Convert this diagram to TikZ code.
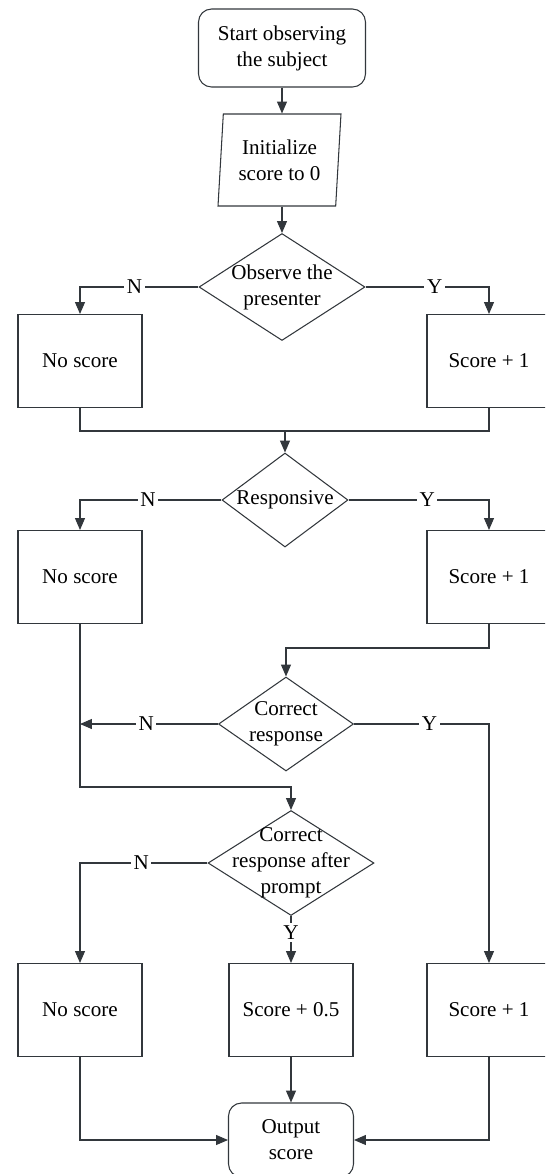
\documentclass[tikz,border=0pt]{standalone}
\usepackage{fontspec}
\setmainfont{Liberation Serif}
\usetikzlibrary{shapes.geometric,arrows.meta}
\definecolor{flowline}{RGB}{50,55,60}
\begin{document}
\begin{tikzpicture}[x=0.02cm,y=-0.02cm,
  font=\fontsize{12}{14.8}\selectfont,
  terminal/.style={draw=flowline, line width=0.6pt, rounded corners=0.26cm,
    minimum width=3.34cm, minimum height=1.56cm, align=center, inner sep=0pt},
  process/.style={draw=flowline, line width=0.6pt,
    minimum width=2.48cm, minimum height=1.86cm, inner sep=0pt},
  inputbox/.style={trapezium, trapezium left angle=82.6, trapezium right angle=97.4,
    trapezium stretches body=true, draw=flowline, line width=0.6pt,
    minimum width=2.46cm, minimum height=1.84cm, align=center, inner sep=0pt},
  decision/.style={diamond, draw=flowline, line width=0.6pt, inner sep=0pt},
  answer/.style={fill=white, inner sep=1.5pt},
  line/.style={draw=flowline, line width=0.6pt},
  flow/.style={line, -{Triangle[length=6.8pt,width=5.7pt]}}]
\useasboundingbox (0,0) rectangle (545,1174);
\clip (0,0) rectangle (545,1174);

\node[terminal] (start) at (282,48) {Start observing\\the subject};
\node[inputbox] (init) at (279.5,160) {Initialize\\score to 0};
\node[decision, minimum width=3.32cm, minimum height=2.14cm,
  label={[align=center]center:{Observe the\\presenter}}] (obs) at (282,287) {};
\node[process] (none1) at (80,361) {No score};
\node[process] (plus1) at (489,361) {Score + 1};
\node[decision, minimum width=2.52cm, minimum height=1.88cm,
  label={center:Responsive}] (resp) at (285,500) {};
\node[process] (none2) at (80,577) {No score};
\node[process] (plus2) at (489,577) {Score + 1};
\node[decision, minimum width=2.7cm, minimum height=1.88cm,
  label={[align=center]center:{Correct\\response}}] (corr) at (286,724) {};
\node[decision, minimum width=3.32cm, minimum height=2.1cm,
  label={[align=center]center:{Correct\\response after\\prompt}}] (prompt) at (291,863) {};
\node[process] (none3) at (80,1010) {No score};
\node[process] (half) at (291,1010) {Score + 0.5};
\node[process] (plus3) at (489,1010) {Score + 1};
\node[terminal, minimum width=2.5cm, minimum height=1.48cm] (out) at (291,1140) {Output\\score};

\coordinate (join1) at (285,431);
\coordinate (join2) at (286,648);
\coordinate (join3) at (291,787);

\draw[flow] (start) -- (start |- init.north);
\draw[flow] (obs.north |- init.south) -- (obs.north);
\draw[flow] (obs.west) -| node[answer,pos=0.27]{N} (none1.north);
\draw[flow] (obs.east) -| node[answer,pos=0.28]{Y} (plus1.north);
\draw[line] (none1.south) |- (join1) -| (plus1.south);
\draw[flow] (join1) -- (resp.north);
\draw[flow] (resp.west) -| node[answer,pos=0.26]{N} (none2.north);
\draw[flow] (resp.east) -| node[answer,pos=0.28]{Y} (plus2.north);
\draw[flow] (plus2.south) |- (join2) -- (corr.north);
\draw[flow] (corr.west) -- node[answer,pos=0.52]{N} (corr.west -| none2.south);
\draw[flow] (corr.east) -| node[answer,pos=0.28]{Y} (plus3.north);
\draw[flow] (none2.south) |- (join3) -- (prompt.north);
\draw[flow] (prompt.west) -| node[answer,pos=0.26]{N} (none3.north);
\draw[flow] (prompt.south) -- node[answer,pos=0.35]{Y} (half.north);
\draw[flow] (half) -- (out);
\draw[flow] (none3.south) |- (out.west);
\draw[flow] (plus3.south) |- (out.east);
\end{tikzpicture}
\end{document}
